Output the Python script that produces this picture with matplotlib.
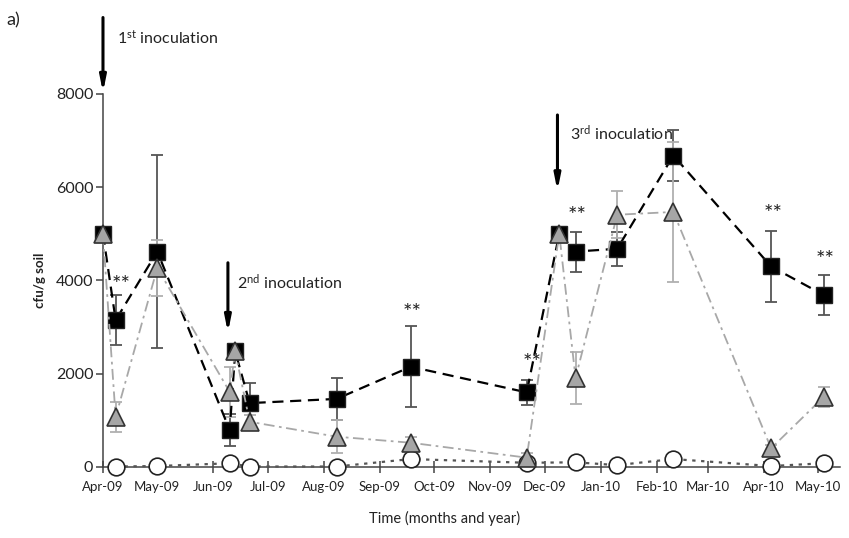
import numpy as np
import pandas as pd
import matplotlib.pyplot as plt
import matplotlib.dates as mdates

plt.rcParams['font.family'] = ['Lato', 'DejaVu Sans']
plt.rcParams['mathtext.default'] = 'regular'

# sampling dates for the inoculated treatments (incl. the inoculation days)
dates = pd.to_datetime(['2009-04-01', '2009-04-08', '2009-05-01', '2009-06-10', '2009-06-13',
                        '2009-06-21', '2009-08-08', '2009-09-18', '2009-11-21', '2009-12-09',
                        '2009-12-18', '2010-01-10', '2010-02-10', '2010-04-05', '2010-05-04'])
squares = [5000, 3150, 4620, 790, 2480, 1370, 1460, 2150, 1600, 5000, 4620, 4680, 6680, 4300, 3690]
squares_err = [0, 540, 2070, 350, 0, 440, 450, 870, 270, 0, 430, 370, 540, 770, 420]
triangles = [5000, 1070, 4270, 1610, 2480, 970, 650, 520, 200, 5000, 1910, 5410, 5470, 400, 1500]
triangles_err = [0, 330, 600, 540, 0, 150, 350, 130, 100, 0, 550, 500, 1500, 80, 220]

# control (no inoculation)
ctrl_dates = pd.to_datetime(['2009-04-08', '2009-05-01', '2009-06-10', '2009-06-21', '2009-08-08',
                             '2009-09-18', '2009-11-21', '2009-12-18', '2010-01-10', '2010-02-10',
                             '2010-04-05', '2010-05-04'])
circles = [10, 20, 80, 10, 10, 170, 90, 100, 40, 170, 20, 80]

# significance marks
star_dates = pd.to_datetime(['2009-04-11', '2009-09-19', '2009-11-24', '2009-12-19',
                             '2010-04-06', '2010-05-05'])
star_y = [3900, 3300, 2230, 5390, 5430, 4430]

# inoculation arrows: (date, y top, y bottom, label, label date, label y)
inoc = [('2009-04-01', 9640, 8030, '1$^{st}$ inoculation', '2009-04-09', 9200),
        ('2009-06-09', 4380, 2880, '2$^{nd}$ inoculation', '2009-06-14', 3970),
        ('2009-12-08', 7550, 5920, '3$^{rd}$ inoculation', '2009-12-15', 7170)]

fig = plt.figure(figsize=(8.49, 5.38), dpi=100)
ax = fig.add_axes([0.1213, 0.132, 0.868, 0.6933])

ax.errorbar(dates, squares, yerr=squares_err, fmt='none', ecolor='#555555',
            elinewidth=1.3, capsize=4, capthick=1.3, zorder=2, clip_on=False)
ax.errorbar(dates, triangles, yerr=triangles_err, fmt='none', ecolor='#b0b0b0',
            elinewidth=1.3, capsize=4, capthick=1.3, zorder=2, clip_on=False)

ax.plot(dates, squares, color='black', linestyle=(0, (5, 3)), linewidth=1.6,
        marker='s', markersize=11.5, markerfacecolor='black', markeredgecolor='#222222',
        zorder=3, clip_on=False)
ax.plot(ctrl_dates, circles, color='#555555', linestyle=(0, (1.5, 2.5)), linewidth=1.6,
        marker='o', markersize=12, markerfacecolor='white', markeredgecolor='#222222',
        markeredgewidth=1.2, zorder=4, clip_on=False)
ax.plot(dates, triangles, color='#a8a8a8', linestyle=(0, (6, 2.5, 1.5, 2.5)), linewidth=1.3,
        marker='^', markersize=12.5, markerfacecolor='#a6a6a6', markeredgecolor='#333333',
        markeredgewidth=1.2, zorder=5, clip_on=False)

for d, y in zip(star_dates, star_y):
    ax.text(d, y, '**', ha='center', va='center', fontsize=16, color='#222222')

for d, y0, y1, label, ld, ly in inoc:
    d = pd.Timestamp(d)
    ax.annotate('', xy=(d, y1), xytext=(d, y0), annotation_clip=False,
                arrowprops=dict(arrowstyle='-|>,head_width=0.18,head_length=0.9',
                                color='black', lw=2.2, shrinkA=0, shrinkB=0))
    ax.text(pd.Timestamp(ld), ly, label, ha='left', va='center', fontsize=11.5,
            color='#222222', clip_on=False)

ax.set_xlim(pd.Timestamp('2009-04-01'), pd.Timestamp('2010-05-13'))
ax.set_ylim(0, 8000)
ax.set_yticks([0, 2000, 4000, 6000, 8000])
ax.xaxis.set_major_locator(mdates.MonthLocator())
ax.xaxis.set_major_formatter(mdates.DateFormatter('%b-%y'))

for side in ['top', 'right']:
    ax.spines[side].set_visible(False)
for side in ['left', 'bottom']:
    ax.spines[side].set_color('#444444')
    ax.spines[side].set_linewidth(1.1)

ax.tick_params(axis='x', direction='inout', length=8, width=1.1, color='#444444',
               labelsize=9.5, labelcolor='#222222', pad=6)
ax.tick_params(axis='y', direction='out', length=5, width=1.1, color='#444444',
               labelsize=11.5, labelcolor='#222222', pad=2)

ax.set_ylabel('cfu/g soil', fontsize=9.5, fontweight='bold', color='#222222')
ax.yaxis.set_label_coords(-0.078, 0.5)
ax.set_xlabel('Time (months and year)', fontsize=10.5, color='#222222')
ax.xaxis.set_label_coords(0.464, -0.118)

fig.text(0.008, 0.962, 'a)', fontsize=13, va='center', color='#222222')

plt.savefig('out.png', dpi=100)
